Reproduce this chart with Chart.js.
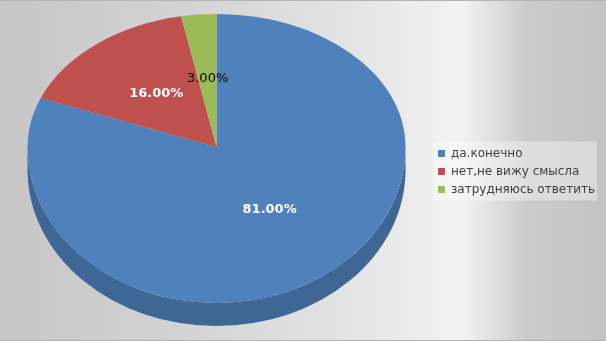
<!DOCTYPE html>
<html><head><meta charset="utf-8">
<script src="https://cdn.jsdelivr.net/npm/chart.js@4.4.1/dist/chart.umd.min.js"></script>
<style>html,body{margin:0;padding:0;background:#c4c4c4;overflow:hidden}#wrap{width:606px;height:341px;position:relative}</style>
</head><body><div id="wrap"><canvas id="c"></canvas></div>
<script>
// ---- data ----
const categories = ['да.конечно', 'нет,не вижу смысла', 'затрудняюсь ответить'];
const values = [81, 16, 3];

// ---- style ----
const sliceColors = ['#4f81bd', '#c0504d', '#9bbb59'];
const sideColors = ['#3e6796', '#983f3c', '#7b9646'];
const labelColors = ['#ffffff', '#ffffff', '#000000'];
const labelWeights = ['bold', 'bold', 'normal'];
// perspective-like top face: upper half and lower half use different vertical radii
const PIE = { cx: 216.5, cy: 147, rx: 189, ryUp: 133, ryDown: 156, depth: 23, labelFrac: 0.5, labelShiftY: -2 };

const total = values.reduce((a, b) => a + b, 0);

const bgPlugin = {
  id: 'bg',
  beforeDraw(chart) {
    const { ctx, width, height } = chart;
    ctx.save();
    const g = ctx.createLinearGradient(0, 0, width, 0);
    g.addColorStop(0, '#c6c6c6');
    g.addColorStop(0.3, '#d3d3d3');
    g.addColorStop(0.6, '#e5e5e5');
    g.addColorStop(0.76, '#f3f3f3');
    g.addColorStop(0.87, '#cbcbcb');
    g.addColorStop(1, '#c4c4c4');
    ctx.fillStyle = g;
    ctx.fillRect(0, 0, width, height);
    ctx.fillStyle = '#b4b4b4';
    ctx.fillRect(0, 0, width, 1);
    ctx.fillRect(0, height - 1, width, 1);
    const lg = chart.legend;
    if (lg && lg.legendHitBoxes && lg.legendHitBoxes.length) {
      const hb = lg.legendHitBoxes;
      let l = Infinity, t = Infinity, r = -Infinity, b = -Infinity;
      hb.forEach(h => { l = Math.min(l, h.left); t = Math.min(t, h.top); r = Math.max(r, h.left + h.width); b = Math.max(b, h.top + h.height); });
      ctx.fillStyle = 'rgba(255,255,255,0.35)';
      ctx.fillRect(l - 4, t - 6, r - l + 6, b - t + 11);
    }
    ctx.restore();
  }
};

function applyHalf(ctx, chart, a0, upper) {
  const r = a0.outerRadius;
  const ry = (upper ? PIE.ryUp : PIE.ryDown) * r / PIE.rx;
  ctx.beginPath();
  if (upper) ctx.rect(0, 0, chart.width, PIE.cy + 0.5);
  else ctx.rect(0, PIE.cy - 0.5, chart.width, chart.height);
  ctx.clip();
  ctx.translate(PIE.cx, PIE.cy);
  ctx.scale(1, ry / r);
  ctx.translate(-a0.x, -a0.y);
}

const pie3d = {
  id: 'pie3d',
  beforeDatasetsDraw(chart) {
    const ctx = chart.ctx;
    const arcs = chart.getDatasetMeta(0).data;
    const a0 = arcs[0];
    const r = a0.outerRadius;
    const ry = PIE.ryDown * r / PIE.rx;
    arcs.forEach((arc, i) => {
      const s = arc.startAngle, e = arc.endAngle;
      [-2 * Math.PI, 0, 2 * Math.PI].forEach(off => {
        const lo = Math.max(s, off), hi = Math.min(e, off + Math.PI);
        if (hi > lo) {
          ctx.beginPath();
          ctx.ellipse(PIE.cx, PIE.cy, r, ry, 0, lo, hi);
          ctx.ellipse(PIE.cx, PIE.cy + PIE.depth, r, ry, 0, hi, lo, true);
          ctx.closePath();
          ctx.fillStyle = sideColors[i];
          ctx.fill();
        }
      });
    });
    ctx.save();
    applyHalf(ctx, chart, a0, true);
  },
  afterDatasetsDraw(chart) {
    const ctx = chart.ctx;
    ctx.restore();
    const arcs = chart.getDatasetMeta(0).data;
    // lower half of the top face
    ctx.save();
    applyHalf(ctx, chart, arcs[0], false);
    arcs.forEach(arc => arc.draw(ctx));
    ctx.restore();
    // value labels
    ctx.save();
    ctx.textAlign = 'center';
    ctx.textBaseline = 'middle';
    arcs.forEach((arc, i) => {
      const r = arc.outerRadius;
      const m = (arc.startAngle + arc.endAngle) / 2;
      const s = Math.sin(m);
      const ry = (s < 0 ? PIE.ryUp : PIE.ryDown) * r / PIE.rx;
      const x = PIE.cx + PIE.labelFrac * r * Math.cos(m);
      const y = PIE.cy + PIE.labelFrac * ry * s + PIE.labelShiftY;
      ctx.font = labelWeights[i] + ' 13px "DejaVu Sans"';
      ctx.fillStyle = labelColors[i];
      ctx.fillText((values[i] / total * 100).toFixed(2) + '%', x, y);
    });
    ctx.restore();
  }
};

new Chart(document.getElementById('c'), {
  type: 'pie',
  data: {
    labels: categories,
    datasets: [{
      data: values,
      backgroundColor: sliceColors,
      borderWidth: 0,
      radius: PIE.rx
    }]
  },
  options: {
    responsive: true,
    maintainAspectRatio: false,
    animation: false,
    layout: { padding: { right: 1, top: 2 } },
    plugins: {
      legend: {
        position: 'right',
        labels: {
          boxWidth: 7,
          boxHeight: 7,
          padding: 6,
          color: '#404040',
          font: { family: '"DejaVu Sans"', size: 12 }
        }
      },
      tooltip: { enabled: false }
    }
  },
  plugins: [bgPlugin, pie3d]
});
</script>
</body></html>
